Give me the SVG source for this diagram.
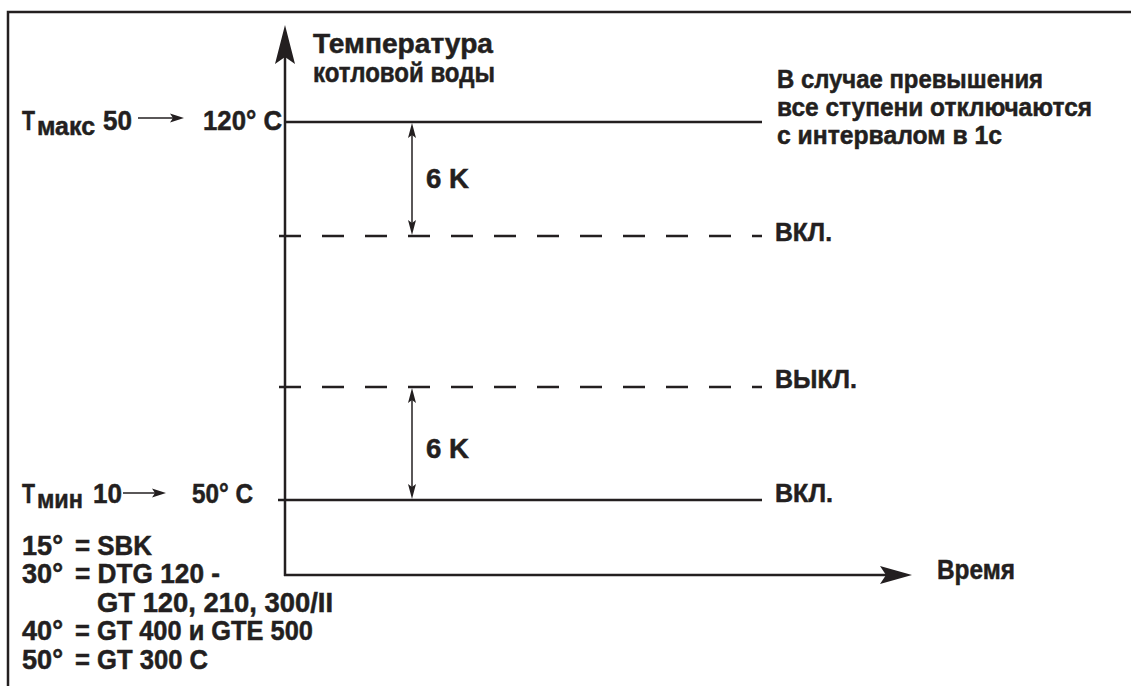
<svg xmlns="http://www.w3.org/2000/svg" width="1132" height="686" viewBox="0 0 1132 686">
<style>
.t{font-family:"Liberation Sans",Arial,sans-serif;font-weight:bold;font-size:27px;fill:#231f20;stroke:#231f20;stroke-width:0.5}
.sub{font-size:26px}
.note{font-size:25px}
.ln{stroke:#231f20;stroke-width:2.5;fill:none}
.dash{stroke:#231f20;stroke-width:2.5;fill:none;stroke-dasharray:22 21}
.thin{stroke:#231f20;stroke-width:1.5;fill:none}
.ah{fill:#231f20}
</style>
<rect width="1132" height="686" fill="#fff"/>
<g id="frame">
<polyline class="ln" points="8,686 8,12 1131,12"/>
</g>
<g id="connectors">
<line class="ln" x1="285" y1="40" x2="285" y2="576"/>
<path class="ah" d="M285,25 L295,64 L285,57 L275,64 Z"/>
<line class="ln" x1="284" y1="575" x2="895" y2="575"/>
<path class="ah" d="M912,575 L880,566 L886,575 L880,584 Z"/>
<line class="ln" x1="284" y1="122" x2="762" y2="122"/>
<line class="dash" x1="279" y1="236" x2="762" y2="236"/>
<line class="dash" x1="279" y1="387" x2="762" y2="387"/>
<line class="ln" x1="278" y1="500" x2="762" y2="500"/>
<line class="thin" x1="412" y1="128" x2="412" y2="230"/>
<path class="ah" d="M412,123 L416,138 L412,135 L408,138 Z"/>
<path class="ah" d="M412,235 L416,220 L412,223 L408,220 Z"/>
<line class="thin" x1="412" y1="393" x2="412" y2="494"/>
<path class="ah" d="M412,388 L416,403 L412,400 L408,403 Z"/>
<path class="ah" d="M412,499 L416,484 L412,487 L408,484 Z"/>
<line class="thin" x1="138" y1="118" x2="176" y2="118"/>
<path class="ah" d="M184,118 L170,113.5 L173,118 L170,122.5 Z"/>
<line class="thin" x1="123" y1="493" x2="158" y2="493"/>
<path class="ah" d="M166,493 L152,488.5 L155,493 L152,497.5 Z"/>
</g>
<g id="y-label">
<text class="t" x="313" y="53" textLength="180" lengthAdjust="spacingAndGlyphs">Температура</text>
<text class="t" x="313" y="82" textLength="182" lengthAdjust="spacingAndGlyphs">котловой воды</text>
</g>
<g id="x-label">
<text class="t" x="937" y="579" textLength="78" lengthAdjust="spacingAndGlyphs">Время</text>
</g>
<g id="tmax">
<text class="t" x="22" y="130" textLength="13" lengthAdjust="spacingAndGlyphs">T</text>
<text class="t sub" x="37" y="135" textLength="58" lengthAdjust="spacingAndGlyphs">макс</text>
<text class="t" x="103" y="130" textLength="29" lengthAdjust="spacingAndGlyphs">50</text>
<text class="t" x="203" y="130" textLength="79" lengthAdjust="spacingAndGlyphs">120° C</text>
</g>
<g id="tmin">
<text class="t" x="22" y="503" textLength="13" lengthAdjust="spacingAndGlyphs">T</text>
<text class="t sub" x="37" y="508" textLength="46" lengthAdjust="spacingAndGlyphs">мин</text>
<text class="t" x="93" y="503" textLength="29" lengthAdjust="spacingAndGlyphs">10</text>
<text class="t" x="192" y="503" textLength="61" lengthAdjust="spacingAndGlyphs">50° C</text>
</g>
<g id="note">
<text class="t note" x="777" y="88" textLength="266" lengthAdjust="spacingAndGlyphs">В случае превышения</text>
<text class="t note" x="777" y="116" textLength="315" lengthAdjust="spacingAndGlyphs">все ступени отключаются</text>
<text class="t note" x="777" y="144" textLength="225" lengthAdjust="spacingAndGlyphs">с интервалом в 1с</text>
</g>
<g id="on-upper">
<text class="t note" x="775" y="241" textLength="57" lengthAdjust="spacingAndGlyphs">ВКЛ.</text>
</g>
<g id="off">
<text class="t note" x="775" y="388" textLength="82" lengthAdjust="spacingAndGlyphs">ВЫКЛ.</text>
</g>
<g id="on-lower">
<text class="t note" x="775" y="502" textLength="58" lengthAdjust="spacingAndGlyphs">ВКЛ.</text>
</g>
<g id="delta-upper">
<text class="t" x="426" y="188" textLength="43" lengthAdjust="spacingAndGlyphs">6 K</text>
</g>
<g id="delta-lower">
<text class="t" x="426" y="458" textLength="43" lengthAdjust="spacingAndGlyphs">6 K</text>
</g>
<g id="legend">
<text class="t" x="22" y="555" textLength="41" lengthAdjust="spacingAndGlyphs">15°</text>
<text class="t" x="75" y="555" textLength="77" lengthAdjust="spacingAndGlyphs">= SBK</text>
<text class="t" x="22" y="583" textLength="41" lengthAdjust="spacingAndGlyphs">30°</text>
<text class="t" x="75" y="583" textLength="145" lengthAdjust="spacingAndGlyphs">= DTG 120 -</text>
<text class="t" x="97" y="612" textLength="236" lengthAdjust="spacingAndGlyphs">GT 120, 210, 300/II</text>
<text class="t" x="22" y="640" textLength="41" lengthAdjust="spacingAndGlyphs">40°</text>
<text class="t" x="75" y="640" textLength="238" lengthAdjust="spacingAndGlyphs">= GT 400 и GTE 500</text>
<text class="t" x="22" y="669" textLength="41" lengthAdjust="spacingAndGlyphs">50°</text>
<text class="t" x="75" y="669" textLength="133" lengthAdjust="spacingAndGlyphs">= GT 300 C</text>
</g>
</svg>
